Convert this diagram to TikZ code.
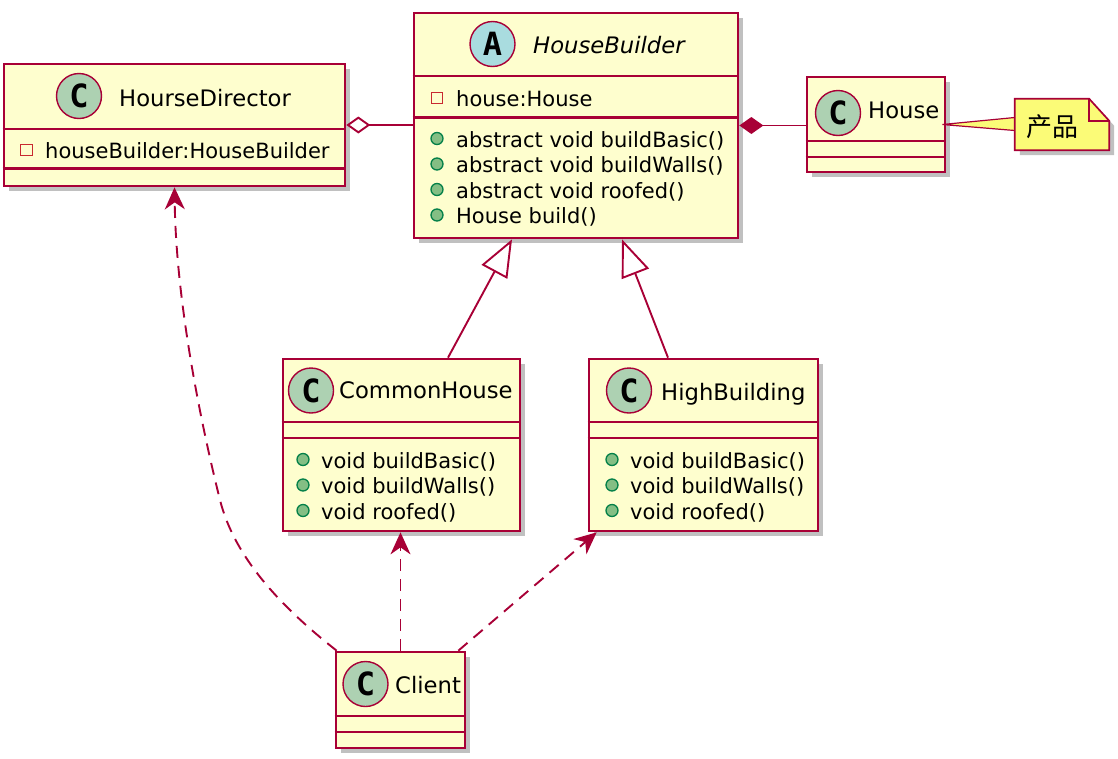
\documentclass[tikz,border=0pt]{standalone}
\usepackage{fontspec}
\setmainfont{DejaVu Sans}
\newfontfamily\spotfont{DejaVu Sans Mono}
\newfontfamily\cjk{Noto Sans CJK SC}
\usetikzlibrary{arrows.meta, calc, shadows}
\definecolor{umlred}{HTML}{A80036}
\definecolor{umlfill}{HTML}{FEFECE}
\definecolor{spotc}{HTML}{ADD1B2}
\definecolor{spota}{HTML}{A9DCDF}
\definecolor{notefill}{HTML}{FBFB77}
\definecolor{pubfill}{HTML}{84BE84}
\definecolor{pubdraw}{HTML}{038048}
\definecolor{privdraw}{HTML}{C82930}

\tikzset{
  umlbox/.style={draw=umlred, fill=umlfill, line width=2.7pt, inner sep=0pt,
    drop shadow={shadow xshift=5pt, shadow yshift=-5pt, fill=black!45, opacity=0.55}},
  sepline/.style={draw=umlred, line width=2.3pt},
  spot/.style={circle, draw=umlred, line width=1.4pt, minimum size=45pt, inner sep=0pt,
    font=\spotfont\bfseries\fontsize{32}{32}\selectfont},
  clsname/.style={inner sep=0pt, anchor=base west, font=\fontsize{22.7}{27}\selectfont},
  member/.style={inner sep=0pt, anchor=base west, font=\fontsize{21}{25}\selectfont},
  pubicon/.style={circle, draw=pubdraw, fill=pubfill, line width=1.3pt, minimum size=12pt, inner sep=0pt},
  privicon/.style={rectangle, draw=privdraw, line width=1.3pt, minimum size=11.5pt, inner sep=0pt},
  conn/.style={draw=umlred, line width=1.9pt},
  depend/.style={conn, dash pattern=on 12pt off 8pt, -{Stealth[length=22pt, width=20pt, inset=7pt]}}
}

\begin{document}
\begin{tikzpicture}[x=1pt, y=-1pt]
\useasboundingbox (0,0) rectangle (1118,758);

% HourseDirector
\node[umlbox, minimum width=341pt, minimum height=122pt] (hd) at (174.5,125) {};
\draw[sepline] (hd.west |- 0,129) -- (hd.east |- 0,129);
\draw[sepline] (hd.west |- 0,168.5) -- (hd.east |- 0,168.5);
\node[spot, fill=spotc] (hdspot) at (79,96) {C};
\node[clsname] (hdname) at (119,106) {HourseDirector};
\node[privicon] (hdpriv) at (26.5,150) {};
\node[member] (hdattr) at (45,158) {houseBuilder:HouseBuilder};

% HouseBuilder (abstract)
\node[umlbox, minimum width=324pt, minimum height=225pt] (hb) at (576,125.5) {};
\draw[sepline] (hb.west |- 0,76) -- (hb.east |- 0,76);
\draw[sepline] (hb.west |- 0,117.5) -- (hb.east |- 0,117.5);
\node[spot, fill=spota] (hbspot) at (492.5,44) {A};
\node[clsname, font=\itshape\fontsize{22.7}{27}\selectfont] (hbname) at (533,53) {HouseBuilder};
\node[privicon] (hbpriv) at (437,98) {};
\node[member] (hbattr) at (456,106) {house:House};
\foreach \txt [count=\i] in {{abstract void buildBasic()}, {abstract void buildWalls()},
    {abstract void roofed()}, {House build()}} {
  \node[pubicon] (hbicon\i) at (437,{138.5+25.5*(\i-1)}) {};
  \node[member] (hbm\i) at (456,{147+25.5*(\i-1)}) {\txt};
}

% House
\node[umlbox, minimum width=138pt, minimum height=95pt] (house) at (876,124.5) {};
\draw[sepline] (house.west |- 0,141) -- (house.east |- 0,141);
\draw[sepline] (house.west |- 0,157) -- (house.east |- 0,157);
\node[spot, fill=spotc] (housespot) at (838,113) {C};
\node[clsname] (housename) at (868,118) {House};

% CommonHouse
\node[umlbox, minimum width=237pt, minimum height=172pt] (ch) at (401.5,445) {};
\draw[sepline] (ch.west |- 0,422) -- (ch.east |- 0,422);
\draw[sepline] (ch.west |- 0,438) -- (ch.east |- 0,438);
\node[spot, fill=spotc] (chspot) at (311,390.5) {C};
\node[clsname] (chname) at (339,398.5) {CommonHouse};
\foreach \txt [count=\i] in {{void buildBasic()}, {void buildWalls()}, {void roofed()}} {
  \node[pubicon] (chicon\i) at (303,{459.5+25.5*(\i-1)}) {};
  \node[member] (chm\i) at (321,{468+25.5*(\i-1)}) {\txt};
}

% HighBuilding
\node[umlbox, minimum width=229pt, minimum height=172pt] (hbd) at (703.5,445) {};
\draw[sepline] (hbd.west |- 0,422) -- (hbd.east |- 0,422);
\draw[sepline] (hbd.west |- 0,438) -- (hbd.east |- 0,438);
\node[spot, fill=spotc] (hbdspot) at (629,390.5) {C};
\node[clsname] (hbdname) at (661,400) {HighBuilding};
\foreach \txt [count=\i] in {{void buildBasic()}, {void buildWalls()}, {void roofed()}} {
  \node[pubicon] (hbdicon\i) at (612,{459.5+25.5*(\i-1)}) {};
  \node[member] (hbdm\i) at (630,{468+25.5*(\i-1)}) {\txt};
}

% Client
\node[umlbox, minimum width=129pt, minimum height=96pt] (cl) at (400.5,700) {};
\draw[sepline] (cl.west |- 0,716) -- (cl.east |- 0,716);
\draw[sepline] (cl.west |- 0,732) -- (cl.east |- 0,732);
\node[spot, fill=spotc] (clspot) at (365.5,684) {C};
\node[clsname] (clname) at (395,693) {Client};

% Note
\node[minimum width=94pt, minimum height=51pt, inner sep=0pt] (note) at (1062,124.5) {};
\draw[draw=umlred, fill=notefill, line width=1.2pt] ([xshift=-4pt]house.east) -- (note.west |- 0,117.5)
  -- (note.west |- 0,130.5) -- cycle;
\draw[draw=umlred, fill=notefill, line width=1.7pt,
    drop shadow={shadow xshift=5pt, shadow yshift=-5pt, fill=black!45, opacity=0.55}]
  (note.north west) -- ([xshift=-20pt]note.north east) -- ([yshift=-22pt]note.north east)
  -- (note.south east) -- (note.south west) -- cycle;
\draw[draw=umlred, line width=1.7pt] ([xshift=-20pt]note.north east)
  -- ([xshift=-20pt, yshift=-22pt]note.north east) -- ([yshift=-22pt]note.north east);
\node[inner sep=0pt, font=\cjk\fontsize{26}{30}\selectfont] (notetext) at (1052,127) {产品};

% Aggregation and composition
\draw[conn, {Diamond[fill=white, length=24pt, width=17pt]}-] (hd.east) -- (hd.east -| hb.west);
\draw[conn, {Diamond[length=24pt, width=17pt]}-] (hb.east) -- (hb.east -| house.west);

% Inheritance
\draw[conn, -{Triangle[open, length=37pt, width=29pt]}] ([xshift=46.5pt]ch.north) -- ([xshift=-64pt]hb.south);
\draw[conn, -{Triangle[open, length=37pt, width=29pt]}] ([xshift=-35.5pt]hbd.north) -- ([xshift=46pt]hb.south);

% Dependencies of Client
\draw[depend] ([xshift=2pt]cl.north west) .. controls (285,610) and (235,560) .. (220,500)
  .. controls (200,420) and (176,300) .. (hd.south);
\draw[depend] (cl.north) -- (cl.north |- ch.south);
\draw[depend] ([xshift=-8pt]cl.north east) -- ([xshift=9pt]hbd.south west);
\end{tikzpicture}
\end{document}
